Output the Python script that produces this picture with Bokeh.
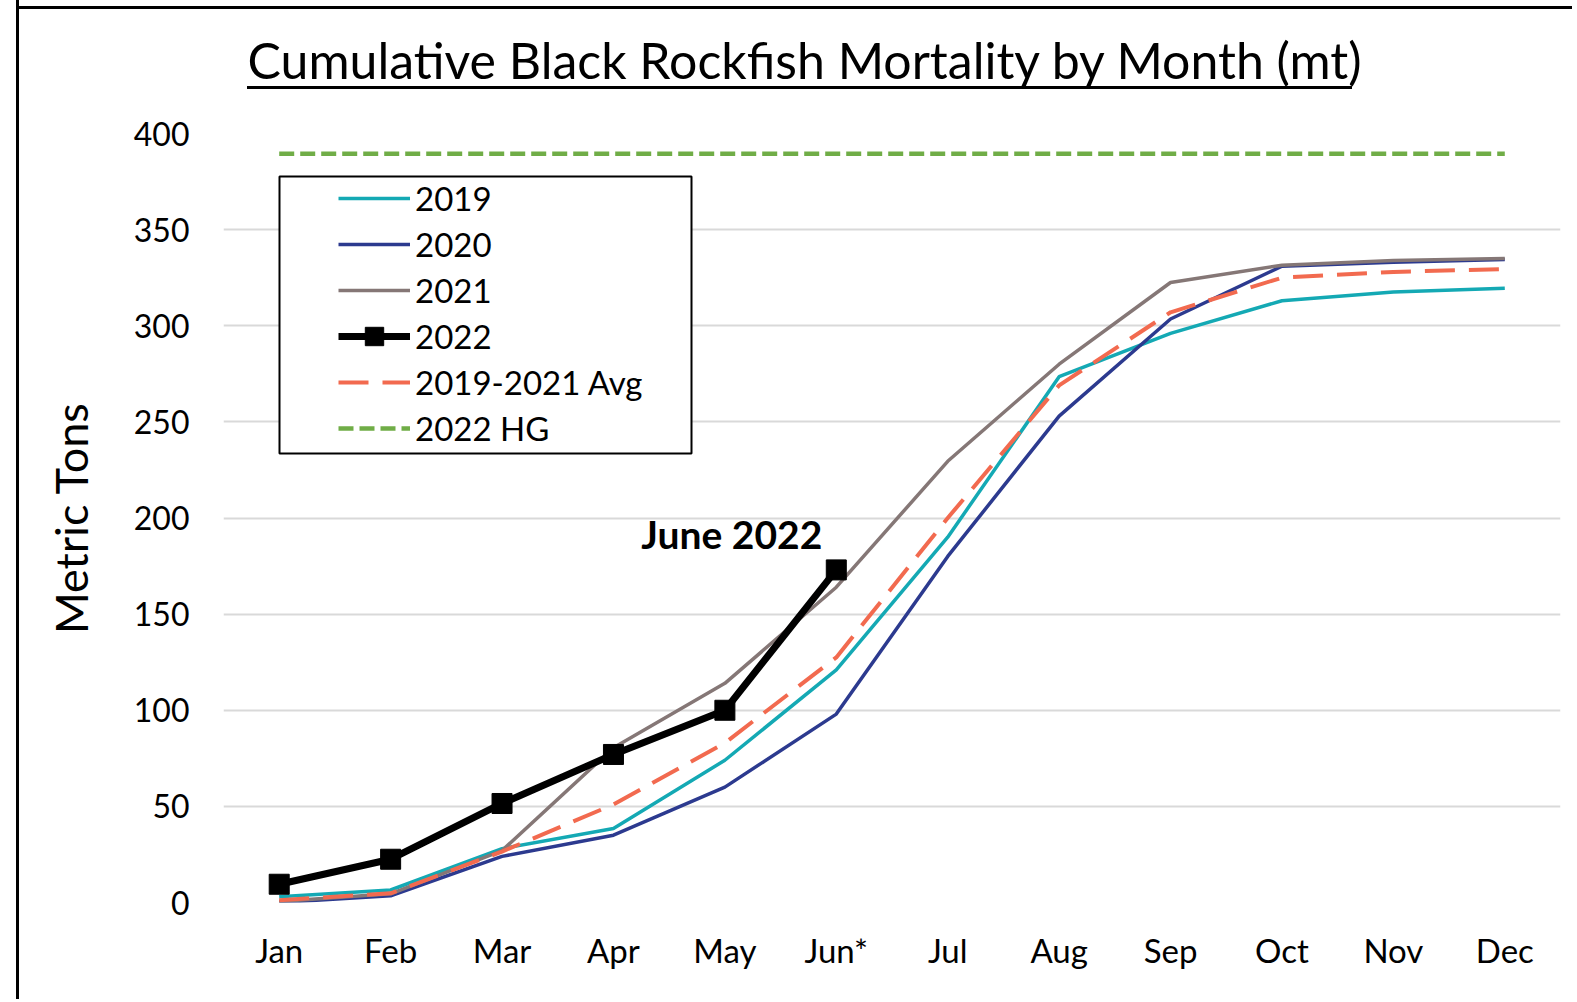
from bokeh.plotting import figure
from bokeh.models import (FactorRange, Range1d, Legend, LegendItem, BoxAnnotation,
                          FixedTicker, InlineStyleSheet)
from bokeh.core.properties import value
from bokeh.embed import file_html
from bokeh.resources import INLINE

# ---------------- data ----------------
months = ["Jan", "Feb", "Mar", "Apr", "May", "Jun*", "Jul", "Aug", "Sep", "Oct", "Nov", "Dec"]
y2019 = [3, 6.5, 28, 38.5, 74, 121, 190, 273.5, 296, 313, 317.5, 319.5]
y2020 = [0, 3.5, 24, 35, 60, 98, 180, 253, 303.5, 331, 333, 334.5]
y2021 = [0.5, 4.5, 27, 80.5, 114, 164, 229.5, 280, 322.5, 331.5, 334, 335]
months_2022 = ["Jan", "Feb", "Mar", "Apr", "May", "Jun*"]
y2022 = [9.5, 22.5, 51.5, 77, 100, 173]
avg_2019_2021 = [1.2, 4.8, 26.5, 51, 83, 127.5, 200, 269, 307, 325, 328, 329.5]
hg_2022 = [389.5, 389.5, 389.5, 389.5, 389.5, 389.5, 389.5, 389.5, 389.5, 389.5, 389.5, 389.5]
y_ticks = [0, 50, 100, 150, 200, 250, 300, 350, 400]
annot_text = "June 2022"
annot_month = "Jun*"
annot_value = 173

FONT = "Lato"

p = figure(width=1556, height=1015,
           x_range=FactorRange(*months, range_padding=0),
           y_range=Range1d(0, 400),
           output_backend="svg", toolbar_location=None,
           min_border_left=204, min_border_right=15,
           min_border_top=149, min_border_bottom=97)

# outer chart border (left/top edges; the rest lies outside the window)
p.styles = {"border-left": "3px solid black",
            "margin-left": "16px", "margin-top": "-16px"}
# top border line and underline of the title
p.stylesheets = [InlineStyleSheet(css="""
:host { position: relative; }
:host::before { content: ""; position: absolute; left: -3px; top: 22px;
                width: calc(100% + 3px); height: 3px; background: black;
                z-index: 10; }
:host::after { content: ""; position: absolute; left: 228px; top: 102px;
               width: 1105px; height: 3px; background: black; z-index: 10; }
""")]

p.outline_line_color = None
p.background_fill_color = "white"

# title
p.title.text = "Cumulative Black Rockfish Mortality by Month (mt)"
p.title.text_font = FONT
p.title.text_font_size = "50px"
p.title.text_font_style = "normal"
p.title.text_color = "black"
p.title.align = "left"
p.title.offset = 24
p.title.standoff = 87

# axes
p.yaxis.ticker = FixedTicker(ticks=y_ticks)
p.yaxis.axis_line_color = None
p.yaxis.major_tick_line_color = None
p.yaxis.minor_tick_line_color = None
p.yaxis.major_tick_out = 0
p.yaxis.major_label_standoff = 34
p.yaxis.major_label_text_font = FONT
p.yaxis.major_label_text_font_size = "32px"
p.yaxis.major_label_text_color = "black"
p.yaxis.axis_label = "Metric Tons"
p.yaxis.axis_label_text_font = FONT
p.yaxis.axis_label_text_font_size = "45px"
p.yaxis.axis_label_text_font_style = "normal"
p.yaxis.axis_label_text_color = "black"
p.yaxis.axis_label_standoff = 33

p.xaxis.axis_line_color = None
p.xaxis.major_tick_line_color = None
p.xaxis.major_tick_out = 0
p.xaxis.major_label_standoff = 27
p.xaxis.major_label_text_font = FONT
p.xaxis.major_label_text_font_size = "33px"
p.xaxis.major_label_text_color = "black"

p.xgrid.grid_line_color = None
p.ygrid.grid_line_color = "#D9D9D9"
p.ygrid.grid_line_width = 2

# series
r19 = p.line(months, y2019, line_color="#14A9B4", line_width=3.5)
r20 = p.line(months, y2020, line_color="#2C3A8F", line_width=3.5)
r21 = p.line(months, y2021, line_color="#857776", line_width=3.5)
r22 = p.line(months_2022, y2022, line_color="black", line_width=7)
r22m = p.scatter(months_2022, y2022, marker="square", size=20,
                 fill_color="black", line_color="black")
ravg = p.line(months, avg_2019_2021, line_color="#F26A4F", line_width=4,
              line_dash="30 14")
rhg = p.line(months, hg_2022, line_color="#70AD47", line_width=4.5,
             line_dash="15 6")

# annotation
p.text(x=[annot_month], y=[annot_value], text=[annot_text],
       text_font=value(FONT), text_font_size="39px", text_font_style="bold",
       text_align="right", text_baseline="alphabetic",
       x_offset=-14, y_offset=-36, text_color="black")

# legend frame
box = BoxAnnotation(left=56, right=468, top=726, bottom=449,
                    left_units="screen", right_units="screen",
                    top_units="screen", bottom_units="screen",
                    fill_color="white", fill_alpha=1.0,
                    line_color="black", line_width=2, line_alpha=1.0)
p.add_layout(box)

legend = Legend(items=[
    LegendItem(label="2019", renderers=[r19]),
    LegendItem(label="2020", renderers=[r20]),
    LegendItem(label="2021", renderers=[r21]),
    LegendItem(label="2022", renderers=[r22, r22m]),
    LegendItem(label="2019-2021 Avg", renderers=[ravg]),
    LegendItem(label="2022 HG", renderers=[rhg]),
], location=(115, 451), padding=0, spacing=0, margin=0,
    glyph_width=72, glyph_height=46, label_height=46, label_standoff=5,
    label_text_font=FONT, label_text_font_size="33px", label_text_color="black",
    border_line_color=None, background_fill_alpha=0)
p.add_layout(legend, "center")

open("out.html", "w").write(file_html(p, INLINE))
